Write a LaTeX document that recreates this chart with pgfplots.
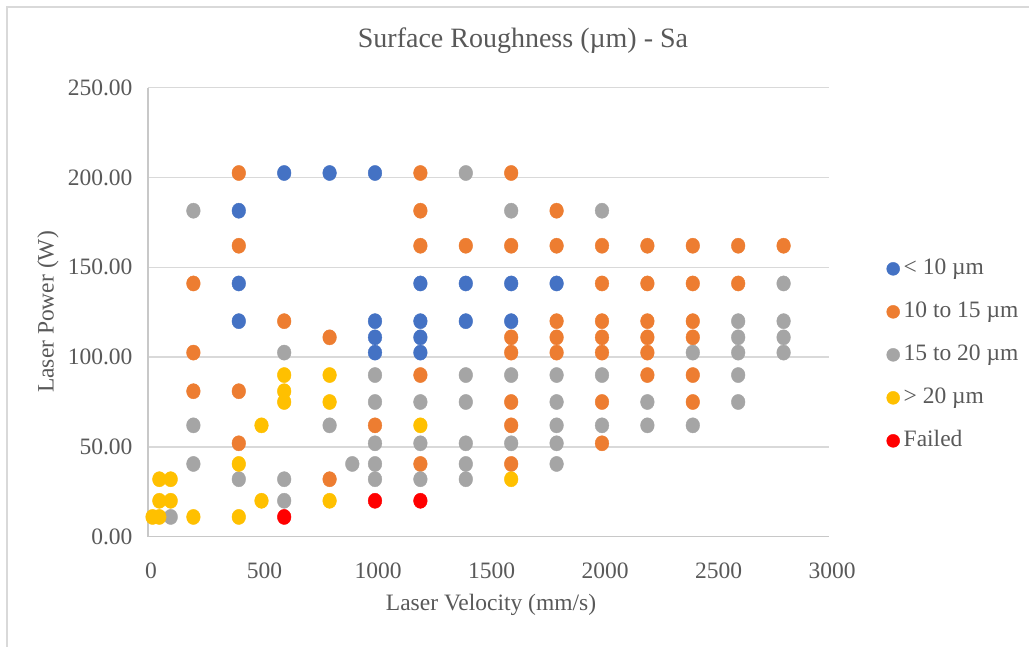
\documentclass[border=0pt]{standalone}
\usepackage{pgfplots}
\pgfplotsset{compat=1.18}
\usepackage{fontspec}
\setmainfont{Liberation Serif}
\definecolor{cblue}{HTML}{4472C4}
\definecolor{corange}{HTML}{ED7D31}
\definecolor{cgray}{HTML}{A5A5A5}
\definecolor{cyellow}{HTML}{FFC000}
\definecolor{cred}{HTML}{FF0000}
\definecolor{gridgray}{HTML}{D9D9D9}
\definecolor{axisgray}{HTML}{C8C8C8}
\definecolor{textgray}{HTML}{595959}
\begin{document}
\begin{tikzpicture}[x=1pt,y=1pt]
\useasboundingbox (0pt,0pt) rectangle (1029pt,647pt);
\fill[white] (0pt,0pt) rectangle (1029pt,647pt);
\draw[gridgray, line width=1.3pt] (7pt,0pt) -- (7pt,640pt) -- (1029pt,640pt);
\begin{axis}[
  at={(148pt,110.3pt)}, anchor=south west,
  scale only axis, width=681pt, height=449pt,
  xmin=0, xmax=3000, ymin=0, ymax=250,
  xtick distance=500, ytick distance=50,
  scaled ticks=false,
  ymajorgrids, grid style={gridgray, line width=1.3pt},
  axis x line*=bottom, axis y line*=left,
  axis line style={axisgray, line width=1.3pt},
  major tick length=0pt,
  tick label style={font=\fontsize{23.5}{26}\selectfont, text=textgray},
  /pgf/number format/assume math mode=true,
  /pgf/number format/1000 sep={},
  y tick label style={/pgf/number format/.cd, fixed, fixed zerofill, precision=2, /tikz/.cd, xshift=-12pt},
  x tick label style={yshift=-23pt, xshift=3pt},
  legend style={at={(axis description cs:1.08,0.405)}, anchor=west, draw=none, fill=none,
    font=\fontsize{23.5}{26}\selectfont, text=textgray, row sep=19pt,
    nodes={inner sep=1pt, text height=17pt, text depth=5pt},
    /tikz/every odd column/.append style={column sep=3pt}},
  legend cell align=left,
  legend image code/.code={\draw[mark repeat=2,mark phase=2,#1,mark options={},mark size=6.5pt] plot coordinates {(0pt,0pt)(7pt,0pt)(14pt,0pt)};},
  every axis plot/.append style={only marks, mark=*, mark size=7.6pt, mark options={xscale=0.9}},
]
\addplot[color=cblue] coordinates {
(400,181.5)(400,141)(400,120)
(600,202.5)(800,202.5)(1000,202.5)
(1000,120)(1000,111)(1000,102.5)
(1200,141)(1200,120)(1200,111)(1200,102.5)
(1400,141)(1400,120)
(1600,141)(1600,120)
(1800,141)
};
\addlegendentry{< 10 µm}
\addplot[color=corange] coordinates {
(200,141)(200,102.5)(200,81)
(400,202.5)(400,162)(400,81)(400,52)
(600,120)
(800,111)(800,32)
(1000,62)
(1200,202.5)(1200,181.5)(1200,162)(1200,90)(1200,40.5)
(1400,162)
(1600,202.5)(1600,162)(1600,111)(1600,102.5)(1600,75)(1600,62)(1600,40.5)
(1800,181.5)(1800,162)(1800,120)(1800,111)(1800,102.5)
(2000,162)(2000,141)(2000,120)(2000,111)(2000,102.5)(2000,75)(2000,52)
(2200,162)(2200,141)(2200,120)(2200,111)(2200,102.5)(2200,90)
(2400,162)(2400,141)(2400,120)(2400,111)(2400,90)(2400,75)
(2600,162)(2600,141)
(2800,162)
};
\addlegendentry{10 to 15 µm}
\addplot[color=cgray] coordinates {
(100,11)
(200,181.5)(200,62)(200,40.5)
(400,32)
(600,102.5)(600,32)(600,20)
(800,62)
(900,40.5)
(1000,90)(1000,75)(1000,52)(1000,40.5)(1000,32)
(1200,75)(1200,52)(1200,32)
(1400,202.5)(1400,90)(1400,75)(1400,52)(1400,40.5)(1400,32)
(1600,181.5)(1600,90)(1600,52)
(1800,90)(1800,75)(1800,62)(1800,52)(1800,40.5)
(2000,181.5)(2000,90)(2000,62)
(2200,75)(2200,62)
(2400,102.5)(2400,62)
(2600,120)(2600,111)(2600,102.5)(2600,90)(2600,75)
(2800,141)(2800,120)(2800,111)(2800,102.5)
};
\addlegendentry{15 to 20 µm}
\addplot[color=cyellow] coordinates {
(20,11)(50,11)(50,20)(50,32)(100,20)(100,32)
(200,11)
(400,40.5)(400,11)
(500,62)(500,20)
(600,90)(600,81)(600,75)
(800,90)(800,75)(800,20)
(1200,62)
(1600,32)
};
\addlegendentry{> 20 µm}
\addplot[color=cred] coordinates {
(600,11)(1000,20)(1200,20)
};
\addlegendentry{Failed}
\end{axis}
\node[text=textgray, font=\fontsize{28}{32}\selectfont] at (523pt,606pt) {Surface Roughness (µm) - Sa};
\node[text=textgray, font=\fontsize{23.5}{26}\selectfont] at (491pt,42pt) {Laser Velocity (mm/s)};
\node[text=textgray, font=\fontsize{23.5}{26}\selectfont, rotate=90] at (48pt,335pt) {Laser Power (W)};
\end{tikzpicture}
\end{document}
